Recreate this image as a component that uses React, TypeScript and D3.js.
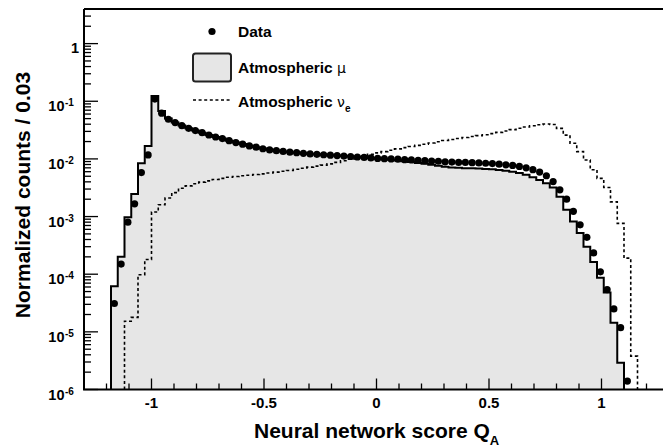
import React from 'react';
import * as d3 from 'd3';

// Histogram binning (bin width 0.03, first bin lower edge)
const BIN_LO = -1.18;
const BIN_W = 0.03;

// Data points (normalized counts per bin)
const dataCounts = [
  3.1e-5, 1.5e-4, 8.0e-4, 1.66e-3, 5.8e-3, 0.0117, 0.109, 0.062, 0.0487, 0.0426,
  0.0377, 0.0339, 0.031, 0.0285, 0.026, 0.024, 0.0225, 0.0207, 0.0192, 0.018,
  0.0168, 0.016, 0.015, 0.0143, 0.0139, 0.0135, 0.0131, 0.0128, 0.0125, 0.0122,
  0.012, 0.0118, 0.0116, 0.0114, 0.0112, 0.011, 0.0108, 0.0106, 0.0104, 0.0102,
  0.0101, 0.01, 0.0099, 0.0097, 0.0096, 0.0094, 0.0093, 0.0092, 0.0091, 0.0089,
  0.0088, 0.0087, 0.0087, 0.0086, 0.0085, 0.0084, 0.0083, 0.0081, 0.0079, 0.0077,
  0.0074, 0.007, 0.0065, 0.0059, 0.0051, 0.00405, 0.00291, 0.002, 0.00123, 0.00072,
  0.000436, 0.000234, 0.00011, 5.4e-5, 2.5e-5, 1.18e-5, 1.4e-6, 0,
];

// Atmospheric mu MC (filled histogram)
const muCounts = [
  6.2e-5, 2.0e-4, 9.7e-4, 2.45e-3, 8.4e-3, 0.0168, 0.123, 0.068, 0.05, 0.043,
  0.038, 0.034, 0.031, 0.0285, 0.026, 0.024, 0.0225, 0.0207, 0.0193, 0.0181,
  0.0169, 0.016, 0.0151, 0.0144, 0.0139, 0.0135, 0.0131, 0.0128, 0.0125, 0.0122,
  0.012, 0.0118, 0.0116, 0.0114, 0.0112, 0.011, 0.0108, 0.0106, 0.0104, 0.0101,
  0.0099, 0.0097, 0.0094, 0.0091, 0.0088, 0.0085, 0.0082, 0.0079, 0.0076, 0.0073,
  0.0071, 0.007, 0.0069, 0.0069, 0.0068, 0.0067, 0.0066, 0.0064, 0.0062, 0.006,
  0.0057, 0.0053, 0.0048, 0.0043, 0.0038, 0.0032, 0.0022, 0.00131, 0.00082, 0.00052,
  0.0003, 0.000162, 8.7e-5, 4.8e-5, 1.44e-5, 2.9e-6, 0, 0,
];

// Atmospheric nu_e MC (dashed histogram)
const nueCounts = [
  0, 0, 1.53e-5, 1.78e-5, 9.8e-5, 1.8e-4, 1.2e-3, 1.6e-3, 2.1e-3, 2.6e-3,
  3.1e-3, 3.4e-3, 3.7e-3, 3.95e-3, 4.15e-3, 4.4e-3, 4.6e-3, 4.8e-3, 4.95e-3, 5.1e-3,
  5.2e-3, 5.35e-3, 5.5e-3, 5.7e-3, 5.9e-3, 6.1e-3, 6.3e-3, 6.6e-3, 6.9e-3, 7.2e-3,
  7.5e-3, 7.8e-3, 8.2e-3, 8.7e-3, 9.3e-3, 9.9e-3, 0.0106, 0.0113, 0.012, 0.0127,
  0.0134, 0.0141, 0.0149, 0.0157, 0.0164, 0.0172, 0.018, 0.0189, 0.0198, 0.0208,
  0.0217, 0.0226, 0.0235, 0.0244, 0.0253, 0.0263, 0.0274, 0.0288, 0.0304, 0.0322,
  0.034, 0.0358, 0.0375, 0.0392, 0.0404, 0.0395, 0.0338, 0.0259, 0.0187, 0.0134,
  0.0096, 0.0065, 0.0046, 0.0032, 0.0018, 7.6e-4, 1.9e-4, 3.8e-6,
];

const xMajorTicks = [-1, -0.5, 0, 0.5, 1];
const xTickLabels = ['-1', '-0.5', '0', '0.5', '1'];
const yDecades = [-6, -5, -4, -3, -2, -1, 0];

const W = 663;
const H = 447;
const FONT = '"Liberation Sans", Arial, Helvetica, sans-serif';
const GREEK = '"DejaVu Sans", sans-serif';

const x = d3.scaleLinear().domain([-1.3, 1.3]).range([84, 669]);
const y = d3.scaleLog().domain([1e-6, 4]).range([389.5, 8.9]);
const Y0 = y(1e-6);
const YT = y(4);

const edge = (i: number) => BIN_LO + i * BIN_W;
const yv = (v: number) => (v > 1e-6 ? y(v) : Y0);

function stepPath(vals: number[]) {
  const first = vals.findIndex((v) => v > 0);
  let last = vals.length - 1;
  while (last >= 0 && !(vals[last] > 0)) last--;
  let d = `M${x(edge(first))},${Y0}`;
  for (let i = first; i <= last; i++) {
    d += `L${x(edge(i))},${yv(vals[i])}L${x(edge(i + 1))},${yv(vals[i])}`;
  }
  d += `L${x(edge(last + 1))},${Y0}`;
  return d;
}

export default function App() {
  const muPath = stepPath(muCounts);
  const nuePath = stepPath(nueCounts);

  const xMinor = d3
    .range(-13, 14)
    .map((i) => i / 10)
    .filter((v) => Math.abs(v * 2 - Math.round(v * 2)) > 1e-6);
  const yMinor: number[] = [];
  yDecades.forEach((p) => {
    for (let k = 2; k <= 9; k++) {
      const v = k * Math.pow(10, p);
      if (v <= 4) yMinor.push(v);
    }
  });

  return (
    <svg width={W} height={H} style={{ position: 'absolute', left: 0, top: 0, background: '#fff' }} fontFamily={FONT}>
      <rect x={0} y={0} width={W} height={H} fill="#fff" />
      {/* mu filled histogram */}
      <path d={muPath} fill="#e6e6e6" stroke="none" />

      {/* ticks */}
      {xMajorTicks.map((t) => (
        <line key={'xM' + t} x1={x(t)} x2={x(t)} y1={Y0} y2={Y0 - 11} stroke="#000" strokeWidth={1.3} />
      ))}
      {xMinor.map((t) => (
        <line key={'xm' + t} x1={x(t)} x2={x(t)} y1={Y0} y2={Y0 - 6} stroke="#000" strokeWidth={1.3} />
      ))}
      {yDecades.map((p) => (
        <line key={'yM' + p} x1={84} x2={98} y1={y(Math.pow(10, p))} y2={y(Math.pow(10, p))} stroke="#000" strokeWidth={1.3} />
      ))}
      {yMinor.map((v, i) => (
        <line key={'ym' + i} x1={84} x2={91} y1={y(v)} y2={y(v)} stroke="#000" strokeWidth={1.3} />
      ))}

      {/* mu outline */}
      <path d={muPath} fill="none" stroke="#000" strokeWidth={2} strokeLinejoin="miter" />
      {/* nu_e dashed */}
      <path d={nuePath} fill="none" stroke="#000" strokeWidth={1.6} strokeDasharray="3,2.6" />

      {/* data points */}
      {dataCounts.map((v, i) =>
        v > 0 ? <circle key={'d' + i} cx={x(edge(i) + BIN_W / 2)} cy={yv(v)} r={3.6} fill="#000" /> : null
      )}

      {/* frame */}
      <line x1={84} x2={W + 5} y1={YT} y2={YT} stroke="#000" strokeWidth={2} />
      <line x1={84} x2={84} y1={YT} y2={Y0} stroke="#000" strokeWidth={2} />
      <line x1={83} x2={W + 5} y1={Y0} y2={Y0} stroke="#000" strokeWidth={2} />

      {/* x tick labels */}
      {xMajorTicks.map((t, i) => (
        <text key={'xl' + t} x={x(t)} y={408} textAnchor="middle" fontSize={15} fontWeight="bold">
          {xTickLabels[i]}
        </text>
      ))}
      {/* y tick labels */}
      {yDecades.map((p) => {
        const ty = y(Math.pow(10, p));
        if (p === 0)
          return (
            <text key={'yl' + p} x={79} y={ty + 9.5} textAnchor="end" fontSize={14.5} fontWeight="bold">
              1
            </text>
          );
        return (
          <g key={'yl' + p}>
            <text x={64.5} y={ty + 10} textAnchor="end" fontSize={14.5} fontWeight="bold">
              10
            </text>
            <text x={65} y={ty + 5} textAnchor="start" fontSize={10} fontWeight="bold">
              {String(p)}
            </text>
          </g>
        );
      })}

      {/* axis titles */}
      <text x={254} y={438} fontSize={21} fontWeight="bold">
        Neural network score Q
        <tspan fontSize={13} dy={7}>A</tspan>
      </text>
      <text transform={`translate(30,${(72 + 318) / 2}) rotate(-90)`} textAnchor="middle" fontSize={21} fontWeight="bold">
        Normalized counts / 0.03
      </text>

      {/* legend */}
      <circle cx={212} cy={31.5} r={3.6} fill="#000" />
      <text x={238} y={37} fontSize={15.5} fontWeight="bold">Data</text>
      <rect x={193} y={53.5} width={38} height={28} rx={2.5} fill="#e6e6e6" stroke="#222" strokeWidth={2} />
      <text x={238} y={73.3} fontSize={15.5} fontWeight="bold">
        Atmospheric <tspan fontWeight="normal" fontFamily={GREEK} fontSize={14}>μ</tspan>
      </text>
      <line x1={193} x2={230} y1={100} y2={100} stroke="#000" strokeWidth={1.6} strokeDasharray="3,2.6" />
      <text x={238} y={107.3} fontSize={15.5} fontWeight="bold">
        Atmospheric <tspan fontWeight="normal" fontFamily={GREEK} fontSize={14}>ν</tspan>
        <tspan fontSize={10} dy={4.5}>e</tspan>
      </text>
    </svg>
  );
}
